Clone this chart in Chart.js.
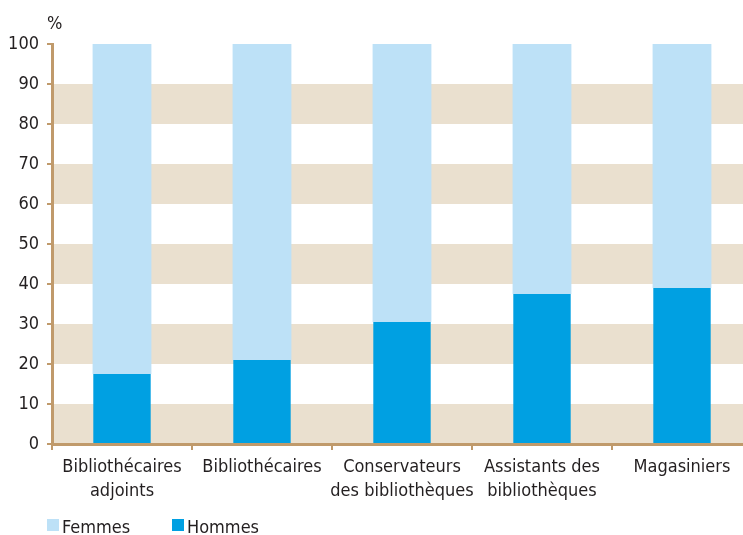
<!DOCTYPE html>
<html>
<head>
<meta charset="utf-8">
<script src="https://cdn.jsdelivr.net/npm/chart.js@4"></script>
<style>
  html, body { margin: 0; padding: 0; overflow: hidden; background: #ffffff; }
  #wrap { width: 760px; height: 535px; }
</style>
</head>
<body>
<div id="wrap"><canvas id="chart"></canvas></div>
<script>
// Part des femmes et des hommes par corps (en %)

const FONT = "'Liberation Sans Narrow', 'DejaVu Sans Condensed', sans-serif";
const TEXT_COLOR = '#231f20';
const AXIS_COLOR = '#c09a6b';
const BAND_COLOR = '#eae0cf';
const FEMMES_COLOR = '#bde1f7';
const HOMMES_COLOR = '#00a0e2';

const categories = [
  ['Bibliothécaires', 'adjoints'],
  'Bibliothécaires',
  ['Conservateurs', 'des bibliothèques'],
  ['Assistants des', 'bibliothèques'],
  'Magasiniers',
];
const hommes = [17.5, 21, 30.5, 37.5, 39];
const femmes = [82.5, 79, 69.5, 62.5, 61];
const yTicks = [0, 10, 20, 30, 40, 50, 60, 70, 80, 90, 100];

// alternating beige bands under everything (0-10, 20-30, ...)
const bandsPlugin = {
  id: 'bands',
  beforeDraw(chart) {
    const { ctx, chartArea: { left, right }, scales: { y } } = chart;
    ctx.save();
    ctx.fillStyle = BAND_COLOR;
    for (let i = 0; i < yTicks.length - 1; i += 2) {
      const top = y.getPixelForValue(yTicks[i + 1]);
      const bottom = y.getPixelForValue(yTicks[i]);
      ctx.fillRect(left, top, right - left, bottom - top);
    }
    ctx.restore();
  },
};

// unit label above the y axis, plus the legend at bottom-left
const extrasPlugin = {
  id: 'extras',
  afterDraw(chart) {
    const { ctx } = chart;
    ctx.save();
    ctx.fillStyle = TEXT_COLOR;
    ctx.font = `18px ${FONT}`;
    ctx.textAlign = 'left';
    ctx.textBaseline = 'alphabetic';
    ctx.fillText('%', 47, 29);

    const items = [chart.data.datasets[1], chart.data.datasets[0]];
    const offsets = [0, 125];
    items.forEach((ds, i) => {
      const bx = 47 + offsets[i];
      ctx.fillStyle = ds.backgroundColor;
      ctx.fillRect(bx, 519, 12, 12);
      ctx.fillStyle = TEXT_COLOR;
      ctx.fillText(ds.label, bx + 15, 533);
    });
    ctx.restore();
  },
};

new Chart(document.getElementById('chart'), {
  type: 'bar',
  data: {
    labels: categories,
    datasets: [
      {
        label: 'Hommes',
        data: hommes,
        backgroundColor: HOMMES_COLOR,
        barPercentage: 0.41,
        categoryPercentage: 1,
        stack: 's',
      },
      {
        label: 'Femmes',
        data: femmes,
        backgroundColor: FEMMES_COLOR,
        barPercentage: 0.42,
        categoryPercentage: 1,
        stack: 's',
      },
    ],
  },
  options: {
    responsive: true,
    maintainAspectRatio: false,
    animation: false,
    layout: { padding: { top: 44, right: 8, left: 0, bottom: 0 } },
    plugins: {
      legend: { display: false },
      tooltip: { enabled: false },
    },
    scales: {
      x: {
        stacked: true,
        afterFit: s => { s.height = 91; },
        border: { color: AXIS_COLOR, width: 3 },
        grid: {
          drawOnChartArea: false,
          color: AXIS_COLOR,
          lineWidth: 2,
          tickLength: 6,
          offset: true,
        },
        ticks: {
          color: TEXT_COLOR,
          font: { family: FONT, size: 18, lineHeight: 1.3 },
          padding: 6,
          maxRotation: 0,
          autoSkip: false,
        },
      },
      y: {
        stacked: true,
        min: 0,
        max: 100,
        afterFit: s => { s.width = 52; },
        border: { color: AXIS_COLOR, width: 3 },
        grid: {
          drawOnChartArea: false,
          color: AXIS_COLOR,
          lineWidth: 2,
          tickLength: 5,
        },
        ticks: {
          stepSize: 10,
          color: TEXT_COLOR,
          font: { family: FONT, size: 18 },
          padding: 8,
        },
      },
    },
  },
  plugins: [bandsPlugin, extrasPlugin],
});
</script>
</body>
</html>
